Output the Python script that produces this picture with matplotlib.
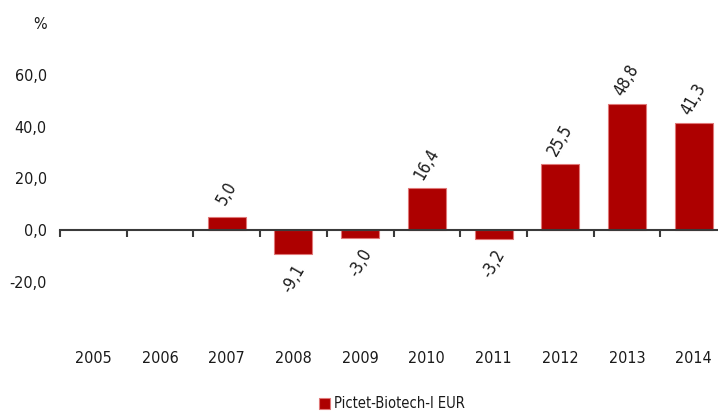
import numpy as np
import matplotlib.pyplot as plt

plt.rcParams['font.family'] = ['DejaVu Sans']
plt.rcParams['font.stretch'] = 'condensed'

years = ['2005', '2006', '2007', '2008', '2009', '2010', '2011', '2012', '2013', '2014']
values = [np.nan, np.nan, 5.0, -9.1, -3.0, 16.4, -3.2, 25.5, 48.8, 41.3]
value_labels = ['', '', '5,0', '-9,1', '-3,0', '16,4', '-3,2', '25,5', '48,8', '41,3']
yticks = [-20, 0, 20, 40, 60, 80]
ytick_labels = ['-20,0', '0,0', '20,0', '40,0', '60,0', '%']
series_name = 'Pictet-Biotech-I EUR'

bar_color = '#AD0000'
text_color = '#1a1a1a'
fs = 11.5

fig = plt.figure(figsize=(7.18, 4.12), dpi=100)
# plot area runs a little past the right edge, as in the source
ax = fig.add_axes([60 / 718, (412 - 333.75) / 412, 667 / 718, 310.5 / 412])

x = np.arange(len(years))
bars = ax.bar(x, values, width=0.57, color=bar_color, edgecolor='#E07878',
              linewidth=0.8, label=series_name, zorder=2)

for xi, v, lab in zip(x, values, value_labels):
    if not lab:
        continue
    off = 24 if v > 0 else -25
    ax.annotate(lab, (xi, v), xytext=(0, off), textcoords='offset pixels',
                ha='center', va='center', rotation=60, fontsize=12,
                color=text_color)

ax.set_xlim(-0.5, len(years) - 0.5)
ax.set_ylim(-40, 80)

for s in ['top', 'right', 'left']:
    ax.spines[s].set_visible(False)
ax.spines['bottom'].set_position(('data', 0))
ax.spines['bottom'].set_color('#3a3a3a')
ax.spines['bottom'].set_linewidth(1.5)
ax.spines['bottom'].set_zorder(3)

ax.set_xticks(x)
ax.set_xticklabels(years)
ax.set_xticks(np.arange(len(years) + 1) - 0.5, minor=True)
ax.tick_params(axis='x', which='major', length=0, pad=87, labelsize=fs,
               labelcolor=text_color)
ax.tick_params(axis='x', which='minor', length=5, width=1.5, color='#3a3a3a',
               direction='out')

ax.set_yticks(yticks)
ax.set_yticklabels(ytick_labels)
ax.tick_params(axis='y', length=0, pad=9.5, labelsize=fs, labelcolor=text_color)

fig.legend(handles=[bars], labels=[series_name], loc='center',
           bbox_to_anchor=(392 / 718, 1 - 404 / 412), frameon=False,
           fontsize=10.5, handlelength=0.75, handleheight=0.75,
           handletextpad=0.3, labelcolor=text_color)

fig.savefig('out.png', dpi=100)
